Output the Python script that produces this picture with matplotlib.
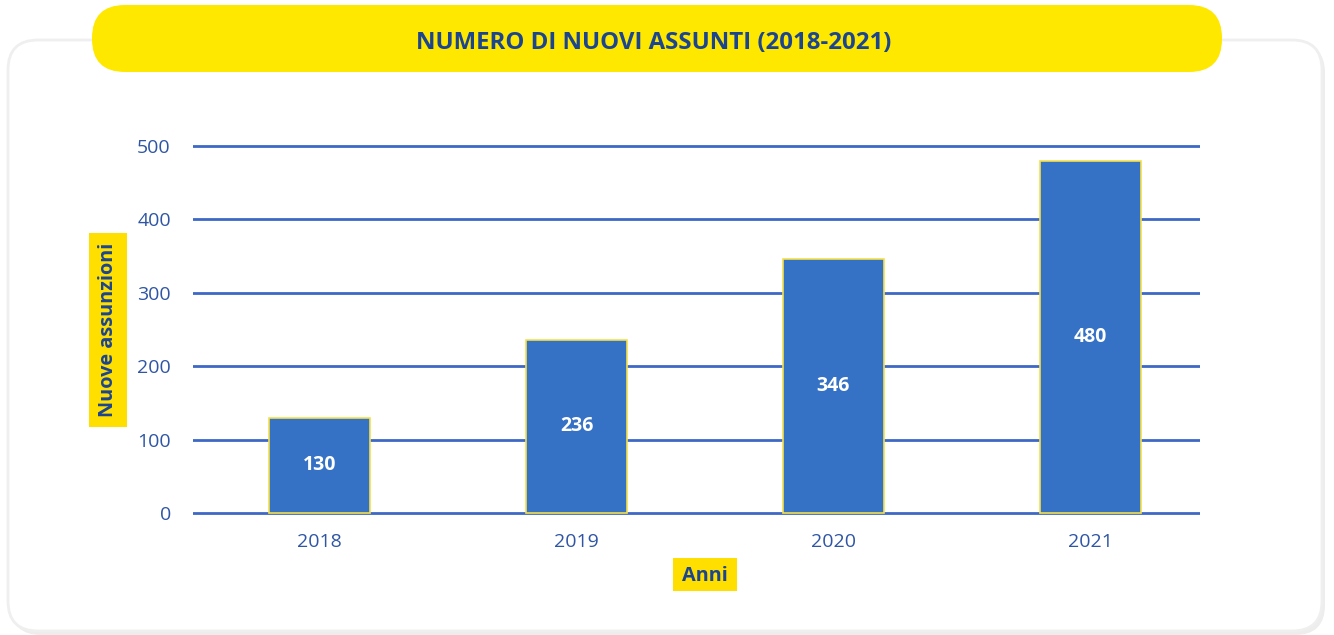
import matplotlib.pyplot as plt
from matplotlib.patches import FancyBboxPatch

# dati
anni = ["2018", "2019", "2020", "2021"]
assunti = [130, 236, 346, 480]
y_ticks = [0, 100, 200, 300, 400, 500]

titolo = "NUMERO DI NUOVI ASSUNTI (2018-2021)"
label_y = "Nuove assunzioni"
label_x = "Anni"

GIALLO = "#FFE800"
GIALLO_BOX = "#FFDF00"
BLU_BARRE = "#3571C5"
BLU_GRIGLIA = "#3D68C6"
BLU_TESTO = "#2F55A4"
BLU_SCURO = "#1C4590"

plt.rcParams['font.family'] = ['Open Sans', 'DejaVu Sans']

W, H = 1334, 635
fig = plt.figure(figsize=(W / 100, H / 100), dpi=100)
fig.patch.set_facecolor("white")

# sfondo in pixel
bg = fig.add_axes([0, 0, 1, 1])
bg.set_xlim(0, W)
bg.set_ylim(H, 0)
bg.axis("off")

# ombra + card
bg.add_patch(FancyBboxPatch((11, 43), 1314, 592, boxstyle="round,pad=0,rounding_size=30",
                            fc="#EDEDED", ec="none"))
bg.add_patch(FancyBboxPatch((8, 40), 1314, 591, boxstyle="round,pad=0,rounding_size=30",
                            fc="white", ec="#EFEFEF", lw=2))

# pillola del titolo
bg.add_patch(FancyBboxPatch((92, 5), 1130, 67, boxstyle="round,pad=0,rounding_size=33",
                            fc=GIALLO, ec="none"))
bg.text(654, 43, titolo, ha="center", va="center", fontsize=17.3, fontweight="bold",
        color=BLU_SCURO)

# riquadri gialli delle etichette
bg.add_patch(plt.Rectangle((89, 233), 38, 194, fc=GIALLO_BOX, ec="none"))
bg.text(108, 330, label_y, rotation=90, ha="center", va="center", fontsize=14.3,
        fontweight="bold", color=BLU_SCURO)
bg.add_patch(plt.Rectangle((673, 558), 64, 33, fc=GIALLO_BOX, ec="none"))
bg.text(705, 576, label_x, ha="center", va="center", fontsize=14.3,
        fontweight="bold", color=BLU_SCURO)

# grafico
y_lo, y_hi = -3, 503
px_per = 367 / 500
top_px = 146 - (y_hi - 500) * px_per
bot_px = 513 + (0 - y_lo) * px_per
ax = fig.add_axes([193 / W, (H - bot_px) / H, (1200 - 193) / W, (bot_px - top_px) / H])
ax.set_facecolor("none")

x = list(range(len(anni)))
bars = ax.bar(x, assunti, width=0.393, color=BLU_BARRE, edgecolor="#F5E04A",
              linewidth=1.2, zorder=3)
for b, v in zip(bars, assunti):
    ax.text(b.get_x() + b.get_width() / 2, v / 2, str(v), ha="center", va="center",
            color="white", fontsize=14, fontweight="bold", zorder=4)

ax.set_xlim(-127 / 257, 3 + 110 / 257)
ax.set_ylim(y_lo, y_hi)
ax.set_yticks(y_ticks)
ax.set_xticks(x)
ax.set_xticklabels(anni)
ax.tick_params(length=0, labelsize=14, labelcolor=BLU_TESTO)
ax.tick_params(axis="y", pad=16)
ax.tick_params(axis="x", pad=13)
ax.yaxis.grid(True, color=BLU_GRIGLIA, linewidth=2)
ax.set_axisbelow(True)
for s in ax.spines.values():
    s.set_visible(False)

fig.savefig("out.png", dpi=100)
